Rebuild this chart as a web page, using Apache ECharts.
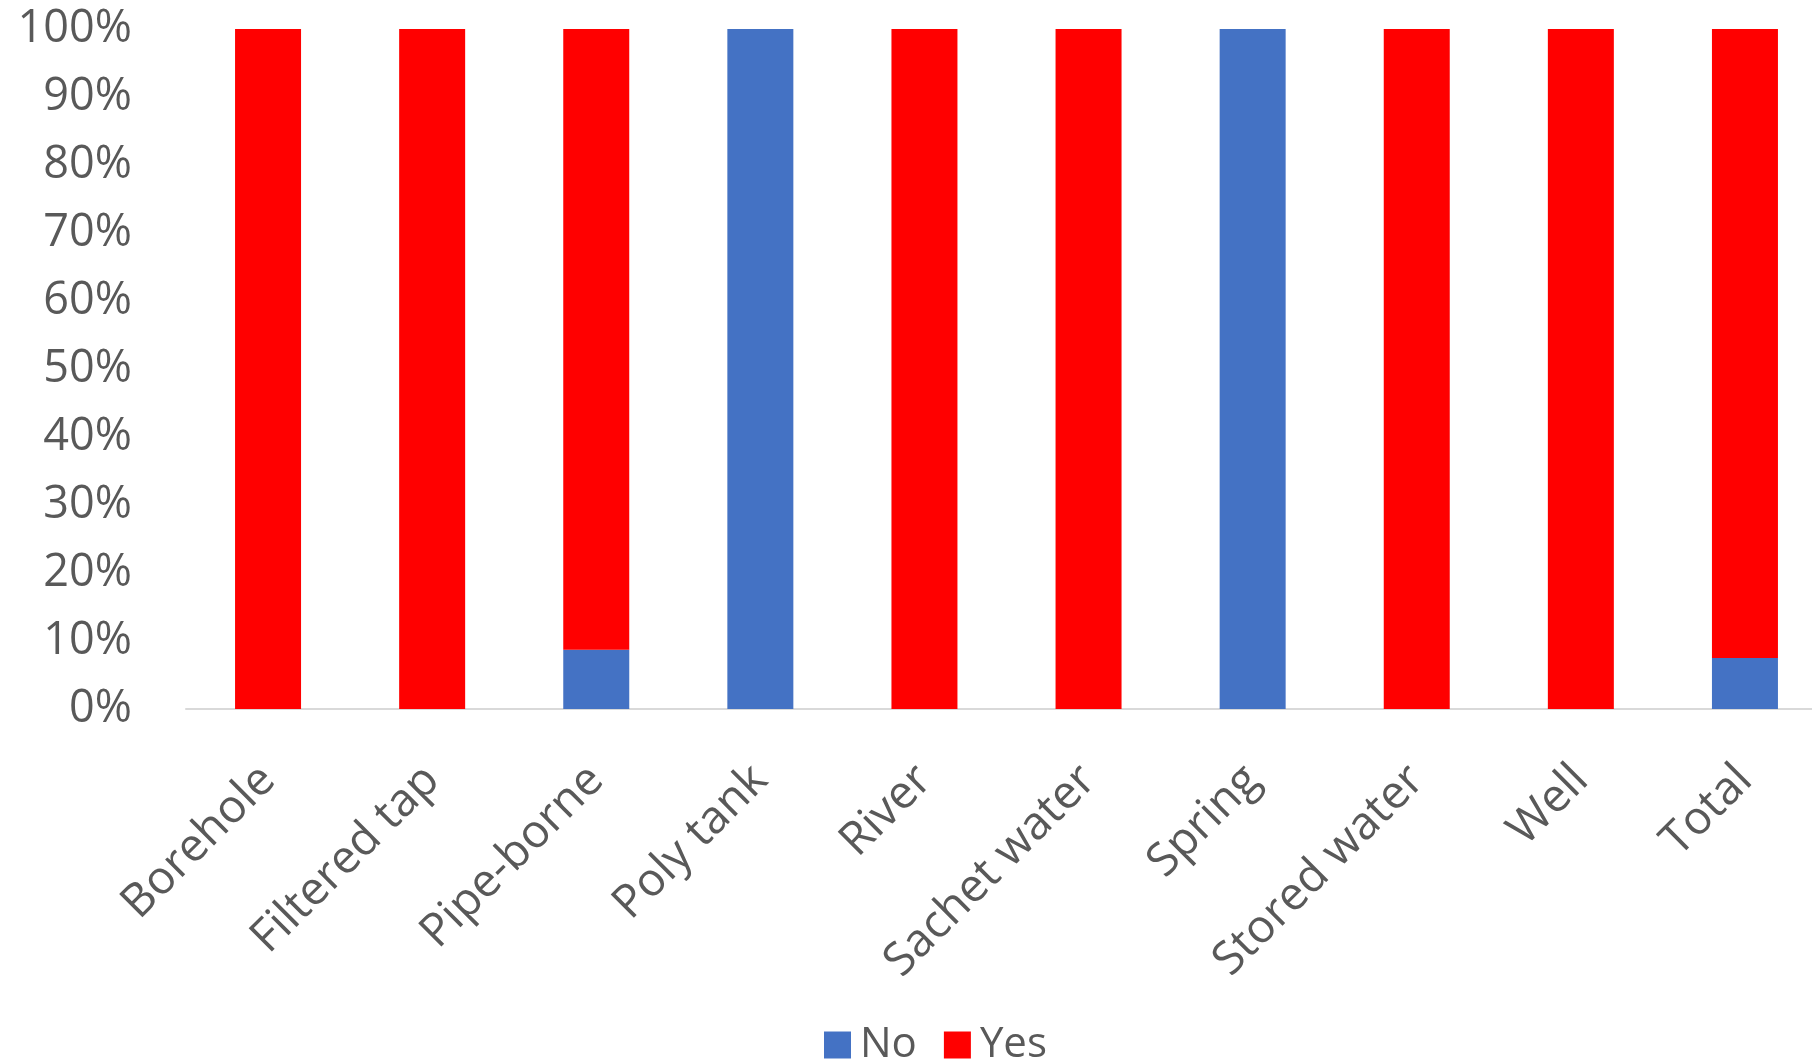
<!DOCTYPE html>
<html>
<head>
<meta charset="utf-8">
<script src="https://cdn.jsdelivr.net/npm/echarts@6/dist/echarts.min.js"></script>
<style>
  html, body { margin: 0; padding: 0; background: #fff; overflow: hidden; }
  /* the plot area continues a little past the right edge of the window */
  #chart { width: 1827px; height: 1063px; }
</style>
</head>
<body>
<div id="chart"></div>
<script>
// Water sources and share of "No" / "Yes" responses (percent)
const categories = ['Borehole', 'Filtered tap', 'Pipe-borne', 'Poly tank', 'River',
                    'Sachet water', 'Spring', 'Stored water', 'Well', 'Total'];
const noValues  = [0, 0, 8.7, 100, 0, 0, 100, 0, 0, 7.5];
const yesValues = [100, 100, 91.3, 0, 100, 100, 0, 100, 100, 92.5];
const seriesNames = ['No', 'Yes'];

const textColor = '#595959';
const fontFamily = '"Open Sans", Lato, sans-serif';

const chart = echarts.init(document.getElementById('chart'), null, { renderer: 'canvas' });
chart.setOption({
  animation: false,
  backgroundColor: '#ffffff',
  grid: { left: 186, right: 0, top: 29, bottom: 354, containLabel: false },
  legend: {
    data: seriesNames,
    left: 819,
    top: 1019,
    itemWidth: 27,
    itemHeight: 27,
    itemGap: 27,
    icon: 'rect',
    textStyle: { color: textColor, fontSize: 42, fontFamily: fontFamily, padding: [0, 0, 0, 4] }
  },
  xAxis: {
    type: 'category',
    data: categories,
    axisLine: { lineStyle: { color: '#d9d9d9', width: 2 } },
    axisTick: { show: false },
    axisLabel: {
      rotate: 45,
      interval: 0,
      margin: 64,
      color: textColor,
      fontSize: 46,
      fontFamily: fontFamily
    }
  },
  yAxis: {
    type: 'value',
    min: 0,
    max: 100,
    interval: 10,
    axisLine: { show: false },
    axisTick: { show: false },
    splitLine: { show: false },
    axisLabel: {
      formatter: '{value}%',
      margin: 54,
      color: textColor,
      fontSize: 45,
      fontFamily: fontFamily
    }
  },
  series: [
    {
      name: seriesNames[0],
      type: 'bar',
      stack: 'share',
      barWidth: 66,
      itemStyle: { color: '#4472C4' },
      data: noValues
    },
    {
      name: seriesNames[1],
      type: 'bar',
      stack: 'share',
      barWidth: 66,
      itemStyle: { color: '#FF0000' },
      data: yesValues
    }
  ]
});
</script>
</body>
</html>
